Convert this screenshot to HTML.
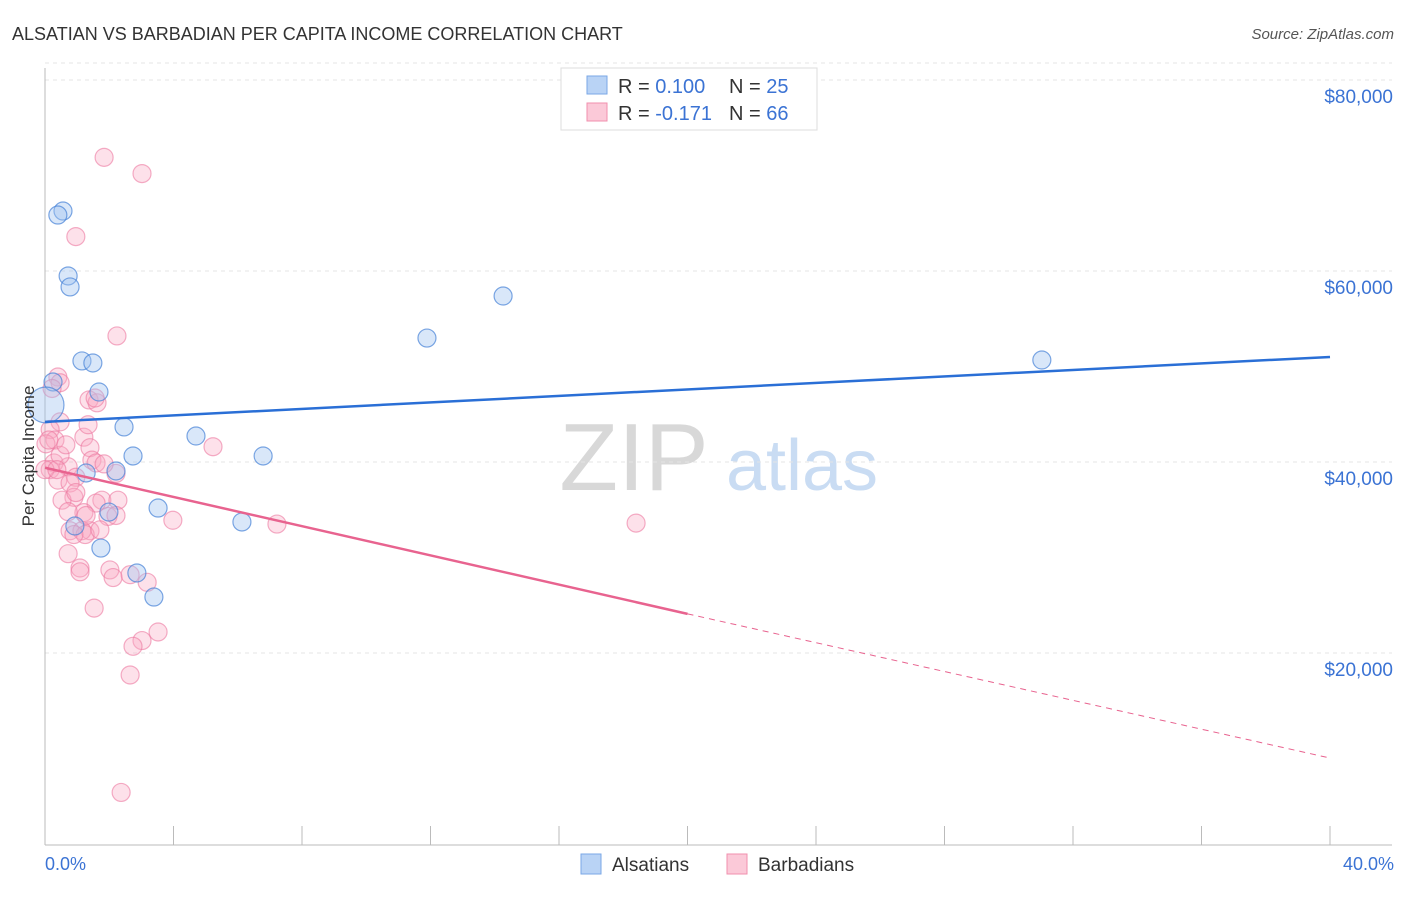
<!DOCTYPE html>
<html><head><meta charset="utf-8"><style>
body{margin:0;background:#fff;font-family:"Liberation Sans",sans-serif}
svg text{font-family:"Liberation Sans",sans-serif}
</style></head><body>
<svg width="1406" height="892" xmlns="http://www.w3.org/2000/svg">
<text x="12" y="40" font-size="18" fill="#333">ALSATIAN VS BARBADIAN PER CAPITA INCOME CORRELATION CHART</text>
<text x="1394" y="39" font-size="15" fill="#555" font-style="italic" text-anchor="end">Source: ZipAtlas.com</text>
<g>
<text x="634" y="490" font-size="96" font-family="Liberation Serif" fill="#d8d8d8" text-anchor="middle">ZIP</text>
<text x="802" y="490" font-size="72" fill="#c9dcf3" text-anchor="middle">atlas</text>
</g>
<g id="grid"></g>
<g id="axes"></g>
<g id="marks"></g>
<text transform="translate(34,456) rotate(-90)" font-size="17" fill="#333" text-anchor="middle">Per Capita Income</text>
<text x="45" y="870" font-size="18" fill="#3b73d4">0.0%</text>
<text x="1394" y="870" font-size="18" fill="#3b73d4" text-anchor="end">40.0%</text>
<g>
<rect x="561" y="68" width="256" height="62" fill="#fff" stroke="#ddd"/>
<rect x="587" y="76" width="20" height="18" fill="#b9d3f5" stroke="#7aa7e6"/>
<rect x="587" y="103" width="20" height="18" fill="#fbc9d8" stroke="#f08fae"/>
<text x="618" y="93" font-size="20" fill="#333">R = <tspan fill="#3b73d4">0.100</tspan><tspan x="729">N = </tspan><tspan fill="#3b73d4">25</tspan></text>
<text x="618" y="120" font-size="20" fill="#333">R = <tspan fill="#3b73d4">-0.171</tspan><tspan x="729">N = </tspan><tspan fill="#3b73d4">66</tspan></text>
</g>
<g>
<rect x="581" y="854" width="20" height="20" fill="#b9d3f5" stroke="#7aa7e6"/>
<text x="612" y="871" font-size="19" fill="#333">Alsatians</text>
<rect x="727" y="854" width="20" height="20" fill="#fbc9d8" stroke="#f08fae"/>
<text x="758" y="871" font-size="19" fill="#333">Barbadians</text>
</g>
</svg>
<script>
const yTicks=[20000,40000,60000,80000];
const yTickLabels=["$20,000","$40,000","$60,000","$80,000"];
const xTicks=[0,4,8,12,16,20,24,28,32,36,40];
const blueX=[0.56,0.40,0.72,0.78,14.26,11.89,1.15,1.49,31.03,0.25,1.68,0.03,2.46,4.70,2.74,6.79,2.21,1.28,3.52,1.99,6.13,0.93,1.74,2.86,3.39];
const blueY=[66280,65860,59480,58330,57380,52980,50580,50370,50680,48380,47330,45970,43670,42720,40630,40630,39060,38850,35180,34760,33720,33300,30990,28380,25860];
const pinkX=[1.84,3.02,0.96,2.24,0.40,0.47,0.22,1.37,1.62,1.56,0.47,0.16,1.21,0.31,0.03,1.40,5.23,1.46,1.59,0.28,0.72,2.21,0.16,0.96,0.40,0.78,1.77,0.90,2.27,1.59,1.21,1.96,3.98,18.40,7.22,0.78,1.40,1.15,1.25,0.72,1.09,1.09,2.02,2.12,2.65,3.18,1.53,3.52,3.02,2.74,2.65,2.37,0.12,0.00,0.47,1.28,1.71,0.90,2.21,0.53,0.65,1.84,1.34,0.37,0.96,0.72];
const pinkY=[71.9,70.2,63.6,53.2,48.9,48.3,47.7,46.5,46.2,46.7,44.2,43.4,42.6,42.3,41.9,41.5,41.6,40.2,39.9,39.9,39.5,38.8,39.2,38.4,38.1,37.8,36.0,36.3,36.0,35.7,34.7,34.3,33.9,33.6,33.5,32.8,32.8,32.8,32.4,30.4,28.9,28.5,28.7,27.9,28.2,27.4,24.7,22.2,21.3,20.7,17.7,5.4,42.3,39.2,40.7,34.4,32.9,32.4,34.4,36.0,41.8,39.8,43.9,39.2,36.8,34.8].map(v=>v*1000);
const blueTrend=[44200,51000];
const pinkTrend=[39400,24100,9000];
const NS="http://www.w3.org/2000/svg";
const sx=v=>45+v/40*1285;
const sy=v=>844-v/20000*191;
function mk(tag,attrs,parent){const e=document.createElementNS(NS,tag);for(const k in attrs)e.setAttribute(k,attrs[k]);parent.appendChild(e);return e;}
const grid=document.getElementById('grid'),axes=document.getElementById('axes'),marks=document.getElementById('marks');
mk('line',{x1:45,y1:sy(80000)-17,x2:1392,y2:sy(80000)-17,stroke:'#e4e4e4','stroke-dasharray':'4,4'},grid);
yTicks.forEach((t,i)=>{
 const l=mk('line',{x1:45,y1:sy(t),x2:1392,y2:sy(t),stroke:'#e4e4e4','stroke-dasharray':'4,4'},grid);
 
 
 const tx=mk('text',{x:1393,y:sy(t)+23,'font-size':19,fill:'#3b73d4','text-anchor':'end'},axes);
 tx.textContent=yTickLabels[i];
 
 
});
mk('line',{x1:45,y1:68,x2:45,y2:845,stroke:'#bbb'},axes);
mk('line',{x1:45,y1:845,x2:1392,y2:845,stroke:'#bbb'},axes);
xTicks.forEach(t=>{
 const l=mk('line',{x1:sx(t),y1:826,x2:sx(t),y2:845,stroke:'#bbb'},axes);
 
 
});
pinkX.forEach((x,i)=>{
 const c=mk('circle',{cx:sx(x),cy:sy(pinkY[i]),r:9,fill:'rgba(248,170,195,0.35)',stroke:'rgba(236,120,160,0.6)','stroke-width':1.2},marks);
 
 
});
blueX.forEach((x,i)=>{
 const c=mk('circle',{cx:sx(x),cy:sy(blueY[i]),r:i===11?18:9,fill:'rgba(160,196,240,0.4)',stroke:'rgba(70,130,215,0.7)','stroke-width':1.2},marks);
 
 
});
const bt=mk('line',{x1:sx(0),y1:sy(blueTrend[0]),x2:sx(40),y2:sy(blueTrend[1]),stroke:'#2a6fd6','stroke-width':2.5},marks);


const pt=mk('line',{x1:sx(0),y1:sy(pinkTrend[0]),x2:sx(20),y2:sy(pinkTrend[1]),stroke:'#e8638f','stroke-width':2.5},marks);


const pd=mk('line',{x1:sx(20),y1:sy(pinkTrend[1]),x2:sx(40),y2:sy(pinkTrend[2]),stroke:'#e8638f','stroke-width':1,'stroke-dasharray':'6,5'},marks);


</script>
</body></html>
